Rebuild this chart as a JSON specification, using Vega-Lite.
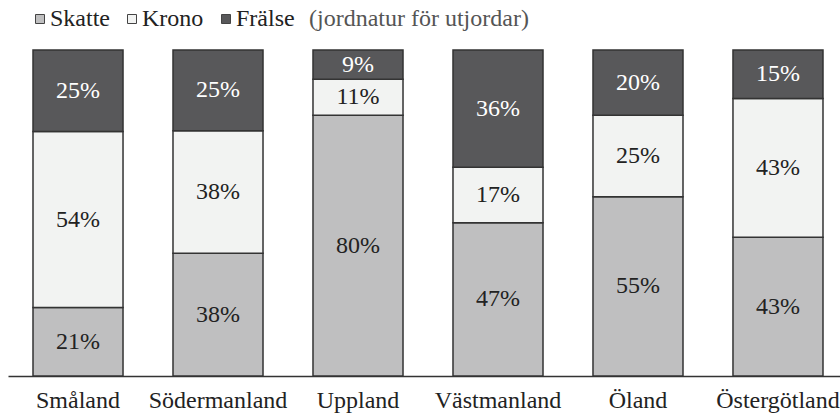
{
  "$schema": "https://vega.github.io/schema/vega-lite/v6.json",
  "width": 832,
  "height": 326,
  "autosize": "none",
  "padding": {"left": 8, "top": 50, "right": 0, "bottom": 39},
  "background": "white",
  "config": {"view": {"stroke": null}, "font": "Liberation Serif"},
  "data": {"values": [
    {"region": "Småland", "cat": "Skatte", "v": 21, "label": "21%"},
    {"region": "Småland", "cat": "Krono", "v": 54, "label": "54%"},
    {"region": "Småland", "cat": "Frälse", "v": 25, "label": "25%"},
    {"region": "Södermanland", "cat": "Skatte", "v": 38, "label": "38%"},
    {"region": "Södermanland", "cat": "Krono", "v": 38, "label": "38%"},
    {"region": "Södermanland", "cat": "Frälse", "v": 25, "label": "25%"},
    {"region": "Uppland", "cat": "Skatte", "v": 80, "label": "80%"},
    {"region": "Uppland", "cat": "Krono", "v": 11, "label": "11%"},
    {"region": "Uppland", "cat": "Frälse", "v": 9, "label": "9%"},
    {"region": "Västmanland", "cat": "Skatte", "v": 47, "label": "47%"},
    {"region": "Västmanland", "cat": "Krono", "v": 17, "label": "17%"},
    {"region": "Västmanland", "cat": "Frälse", "v": 36, "label": "36%"},
    {"region": "Öland", "cat": "Skatte", "v": 55, "label": "55%"},
    {"region": "Öland", "cat": "Krono", "v": 25, "label": "25%"},
    {"region": "Öland", "cat": "Frälse", "v": 20, "label": "20%"},
    {"region": "Östergötland", "cat": "Skatte", "v": 43, "label": "43%"},
    {"region": "Östergötland", "cat": "Krono", "v": 43, "label": "43%"},
    {"region": "Östergötland", "cat": "Frälse", "v": 15, "label": "15%"}
  ]},
  "transform": [
    {"stack": "v", "groupby": ["region"], "sort": [{"field": "cat", "order": "descending"}], "offset": "normalize", "as": ["y0", "y1"]},
    {"calculate": "(datum.y0 + datum.y1) / 2", "as": "ym"}
  ],
  "layer": [
    {
      "mark": {"type": "bar", "stroke": "#333333", "strokeWidth": 1.5},
      "encoding": {
        "x": {"field": "region", "type": "nominal", "sort": null,
          "scale": {"paddingInner": 0.357, "paddingOuter": 0.1786, "range": [0, 840]},
          "axis": {"title": null, "labelAngle": 0, "ticks": false, "domainColor": "#333333", "domainWidth": 1.5, "labelFontSize": 24, "labelFont": "Liberation Serif", "labelColor": "#222222", "labelPadding": 12, "grid": false}},
        "y": {"field": "y0", "type": "quantitative", "scale": {"domain": [0, 1]}, "axis": null},
        "y2": {"field": "y1"},
        "color": {"field": "cat", "type": "nominal",
          "scale": {"domain": ["Skatte", "Krono", "Frälse"], "range": ["#bfbfc0", "#f2f3f2", "#58585a"]},
          "legend": {"orient": "none", "legendX": 20, "legendY": -43, "direction": "horizontal",
            "symbolType": "square", "symbolSize": 81, "symbolStrokeColor": "#444444", "symbolStrokeWidth": 1,
            "labelFontSize": 24, "labelFont": "Liberation Serif", "labelColor": "#222222", "labelOffset": -2, "labelLimit": 300,
            "columnPadding": 10, "title": "(jordnatur för utjordar)", "titleOrient": "right", "titleLimit": 500,
            "titleFontSize": 24, "titleFont": "Liberation Serif", "titleFontWeight": "normal", "titleColor": "#555555", "titlePadding": 14}}
      }
    },
    {
      "mark": {"type": "text", "fontSize": 24, "font": "Liberation Serif"},
      "encoding": {
        "x": {"field": "region", "type": "nominal", "sort": null},
        "y": {"field": "ym", "type": "quantitative"},
        "text": {"field": "label"},
        "color": {"condition": {"test": "datum.cat === 'Frälse'", "value": "#ffffff"}, "value": "#222222"}
      }
    }
  ]
}
